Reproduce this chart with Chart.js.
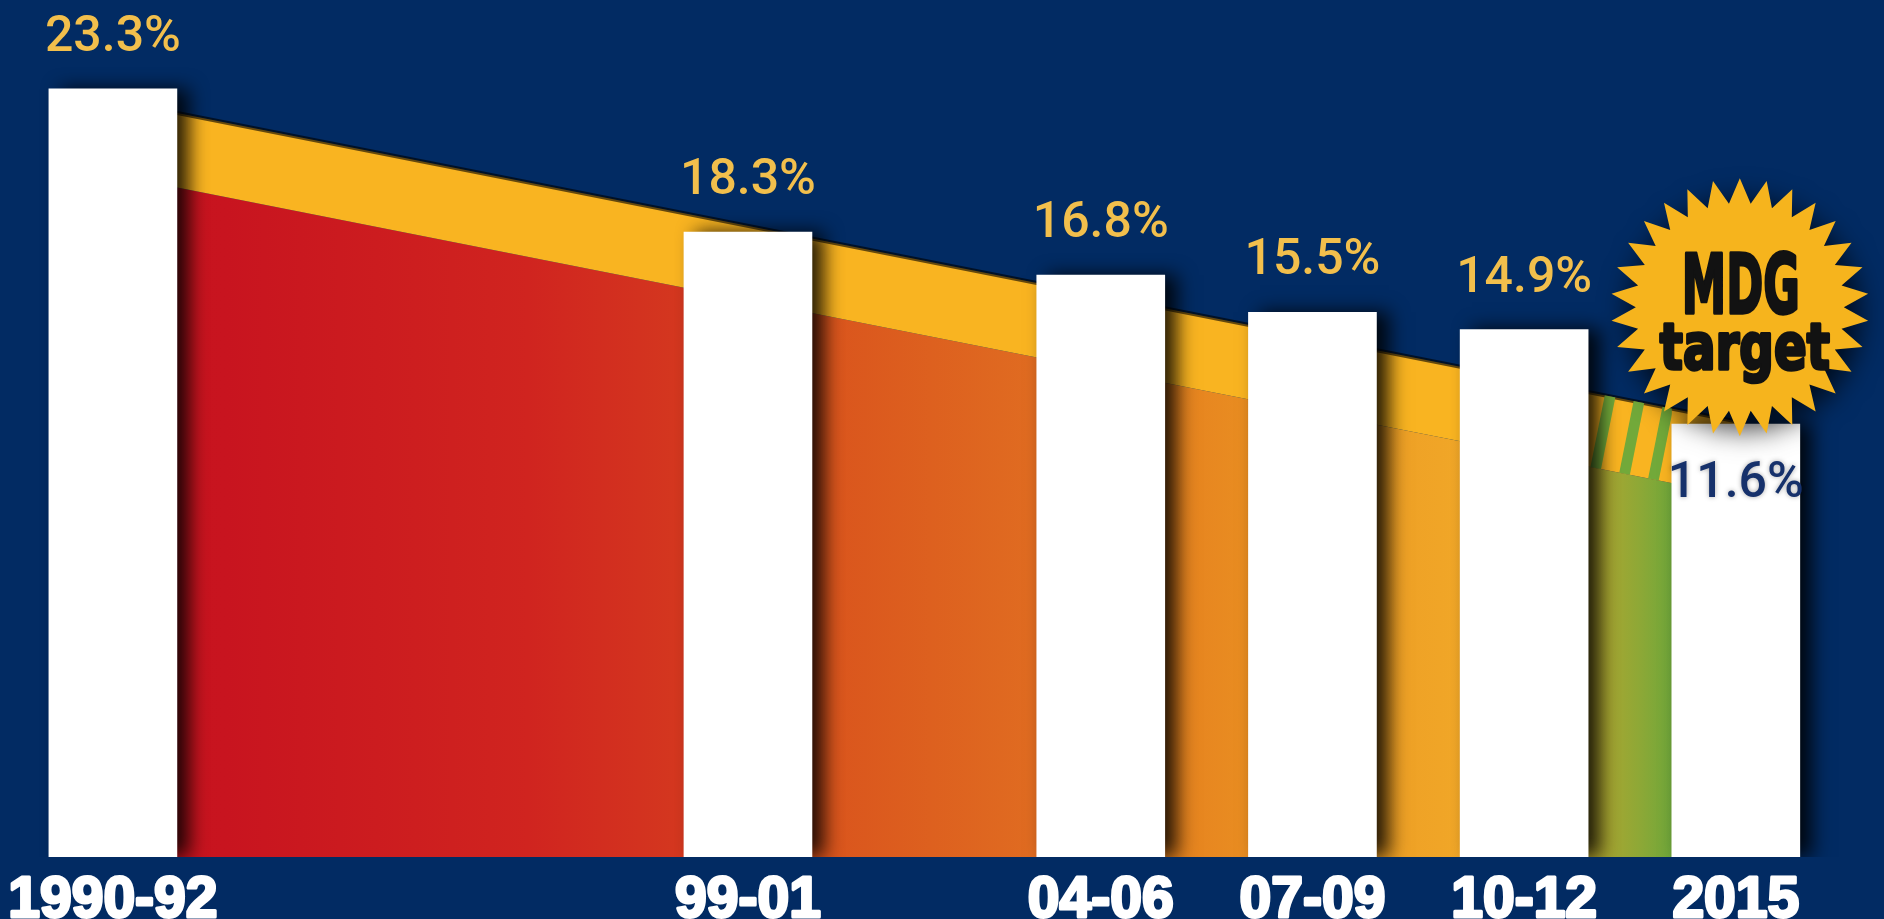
<!DOCTYPE html>
<html>
<head>
<meta charset="utf-8">
<style>
html,body{margin:0;padding:0;background:#022b63;overflow:hidden}
#wrap{position:relative;width:1884px;height:919px}
</style>
<script src="https://cdn.jsdelivr.net/npm/chart.js@4.4.1/dist/chart.umd.min.js"></script>
</head>
<body>
<div id="wrap"><canvas id="c"></canvas></div>
<script>
// ---- data ----
const periodLabels = ['1990-92', '99-01', '04-06', '07-09', '10-12', '2015'];
const periodEndYear = [1992, 2001, 2006, 2009, 2012, 2015];
const undernourishedPct = [23.3, 18.3, 16.8, 15.5, 14.9, 11.6];
const rampYears = [1992, 2015];
const rampBackPct = [22.9, 11.7];
const rampFrontPct = [20.3, 9.1];
const badgeLines = ['MDG', 'target'];
const axisFloorPct = -3.5;
const axisCeilPct = 26.4;
const yearMin = 1990.4;
const yearMax = 2017.1;

function frontGradient(context) {
  const chart = context.chart;
  const a = chart.chartArea;
  if (!a) return '#d03020';
  const g = chart.ctx.createLinearGradient(a.left, 0, a.right, 0);
  g.addColorStop(0.00, '#c4121e');
  g.addColorStop(0.12, '#c8141f');
  g.addColorStop(0.28, '#d0241f');
  g.addColorStop(0.36, '#d4371f');
  g.addColorStop(0.44, '#da551d');
  g.addColorStop(0.55, '#e06c21');
  g.addColorStop(0.62, '#e6821f');
  g.addColorStop(0.73, '#ee9f25');
  g.addColorStop(0.80, '#f2ab29');
  g.addColorStop(0.845, '#b4a52f');
  g.addColorStop(0.87, '#8ea836');
  g.addColorStop(0.895, '#62a73c');
  g.addColorStop(1.00, '#5ea63c');
  return g;
}

function drawHatch(chart) {
  const bars = chart.getDatasetMeta(0).data;
  const back = chart.getDatasetMeta(1).data;
  const front = chart.getDatasetMeta(2).data;
  const n = bars.length;
  const xL = bars[n - 2].x + bars[n - 2].width / 2;
  const xR = bars[n - 1].x - bars[n - 1].width / 2;
  const c = chart.ctx;
  c.save();
  c.beginPath();
  c.moveTo(back[0].x, back[0].y);
  c.lineTo(back[1].x, back[1].y);
  c.lineTo(front[1].x, front[1].y);
  c.lineTo(front[0].x, front[0].y);
  c.closePath();
  c.clip();
  c.beginPath();
  c.rect(xL, 0, xR - xL, chart.height);
  c.clip();
  const top = Math.min(back[0].y, back[1].y);
  const bottom = Math.max(front[0].y, front[1].y);
  const bandMid = 430;
  c.fillStyle = '#72a93a';
  for (let k = 0; k < 6; k++) {
    const xm = xR - 14 - 30 * k;           // stripe position at band middle
    const xb = xm - (bottom - bandMid) * 0.2;
    const xt = xm + (bandMid - top) * 0.2;
    c.beginPath();
    c.moveTo(xb, bottom);
    c.lineTo(xb + 11, bottom);
    c.lineTo(xt + 11, top);
    c.lineTo(xt, top);
    c.closePath();
    c.fill();
  }
  c.restore();
}

function drawCondensed(c, text, font, x, y, w) {
  c.font = font;
  const m = c.measureText(text).width;
  const s = w / m;
  c.save();
  c.translate(x, y);
  c.scale(s, 1);
  c.textAlign = 'center';
  c.strokeText(text, 0, 0);
  c.fillText(text, 0, 0);
  c.restore();
}

const decor = {
  id: 'decor',
  beforeDatasetDraw(chart, args) {
    if (args.index === 0) {
      const c = chart.ctx;
      c.save();
      c.shadowColor = 'rgba(0,0,0,0.85)';
      c.shadowBlur = 18;
      c.shadowOffsetX = 12;
      c.shadowOffsetY = 0;
    }
  },
  afterDatasetDraw(chart, args) {
    if (args.index === 0) chart.ctx.restore();
    if (args.index === 1) drawHatch(chart);
  },
  afterDatasetsDraw(chart) {
    const c = chart.ctx;
    const bars = chart.getDatasetMeta(0).data;
    const n = bars.length;
    const area = chart.chartArea;

    // starburst badge on the last bar
    const b = bars[n - 1];
    const cx = b.x + 4, cy = b.y - 117;
    c.save();
    c.shadowColor = 'rgba(0,0,0,0.7)';
    c.shadowBlur = 22;
    c.shadowOffsetX = 4;
    c.shadowOffsetY = 8;
    c.beginPath();
    const N = 30, R = 129, r = 104;
    for (let k = 0; k < 2 * N; k++) {
      const ang = -Math.PI / 2 + k * Math.PI / N;
      const rad = k % 2 === 0 ? R : r;
      const px = cx + rad * Math.cos(ang), py = cy + rad * Math.sin(ang);
      if (k === 0) c.moveTo(px, py); else c.lineTo(px, py);
    }
    c.closePath();
    c.fillStyle = '#f6b41d';
    c.fill();
    c.restore();

    c.save();
    c.fillStyle = '#121212';
    c.strokeStyle = '#121212';
    c.lineWidth = 3.5;
    c.lineJoin = 'round';
    c.textBaseline = 'alphabetic';
    drawCondensed(c, badgeLines[0], 'bold 82px "DejaVu Sans", sans-serif', cx + 1, cy + 6, 118);
    drawCondensed(c, badgeLines[1], 'bold 64px "DejaVu Sans", sans-serif', cx + 5, cy + 62, 170);
    c.restore();

    // value labels
    c.save();
    c.textAlign = 'center';
    c.textBaseline = 'alphabetic';
    c.font = '500 50px Roboto, "Liberation Sans", sans-serif';
    bars.forEach((bar, i) => {
      const txt = undernourishedPct[i].toFixed(1) + '%';
      if (i === n - 1) {
        c.save();
        c.shadowColor = 'rgba(0,0,0,0.35)';
        c.shadowBlur = 5;
        c.fillStyle = '#16316b';
        c.fillText(txt, bar.x, bar.y + 73);
        c.restore();
      } else {
        c.fillStyle = '#f2bf4c';
        c.fillText(txt, bar.x, bar.y - 38);
      }
    });

    // period labels under the bars
    c.font = 'bold 57px "Liberation Sans", Arial, sans-serif';
    c.fillStyle = '#ffffff';
    c.strokeStyle = '#ffffff';
    c.lineWidth = 3;
    c.lineJoin = 'round';
    bars.forEach((bar, i) => {
      c.strokeText(periodLabels[i], bar.x, area.bottom + 60);
      c.fillText(periodLabels[i], bar.x, area.bottom + 60);
    });
    c.restore();
  }
};

new Chart(document.getElementById('c'), {
  type: 'bar',
  data: {
    datasets: [
      {
        type: 'bar',
        label: 'Undernourishment',
        data: periodEndYear.map((x, i) => ({ x: x, y: undernourishedPct[i] })),
        base: axisFloorPct,
        backgroundColor: '#ffffff',
        borderWidth: 0,
        barThickness: 128,
        order: 0
      },
      {
        type: 'line',
        label: 'ramp back',
        data: rampYears.map((x, i) => ({ x: x, y: rampBackPct[i] })),
        borderColor: 'rgba(0,0,0,0.6)',
        borderWidth: 4,
        pointRadius: 0,
        tension: 0,
        fill: 2,
        backgroundColor: '#f9b421',
        order: 2
      },
      {
        type: 'line',
        label: 'ramp front',
        data: rampYears.map((x, i) => ({ x: x, y: rampFrontPct[i] })),
        borderColor: 'rgba(0,0,0,0)',
        borderWidth: 1,
        pointRadius: 0,
        tension: 0,
        fill: 'start',
        backgroundColor: frontGradient,
        order: 3
      }
    ]
  },
  options: {
    responsive: true,
    maintainAspectRatio: false,
    animation: false,
    layout: { padding: { top: 0, left: 0, right: 0, bottom: 62 } },
    plugins: { legend: { display: false }, tooltip: { enabled: false } },
    scales: {
      x: { type: 'linear', min: yearMin, max: yearMax, offset: false, display: false },
      y: { min: axisFloorPct, max: axisCeilPct, display: false }
    }
  },
  plugins: [decor]
});
</script>
</body>
</html>
